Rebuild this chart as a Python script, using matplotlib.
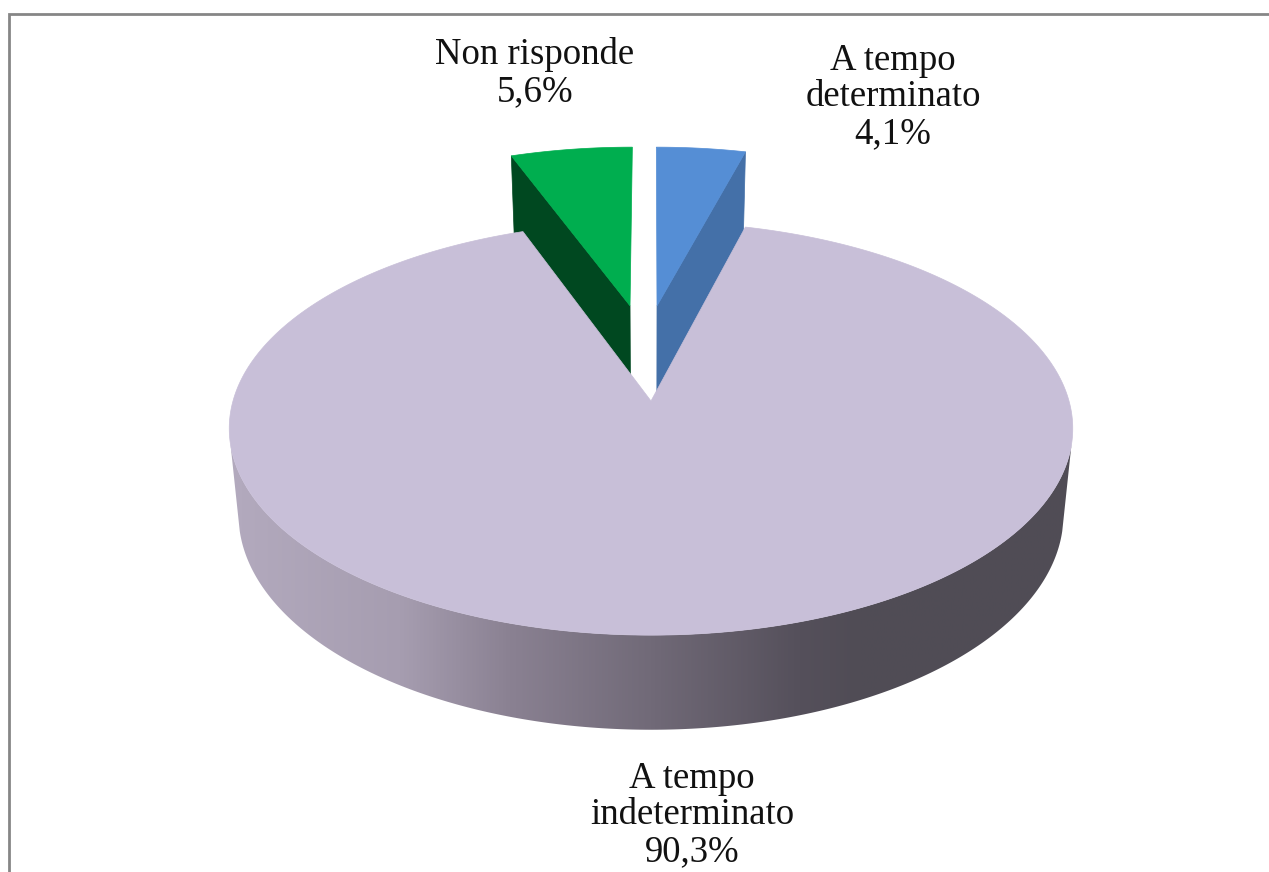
import numpy as np
import matplotlib
matplotlib.use("Agg")
import matplotlib.pyplot as plt
from matplotlib.colors import LinearSegmentedColormap
from matplotlib.patches import Polygon

# ---- data ----
categories = ["A tempo\ndeterminato", "A tempo\nindeterminato", "Non risponde"]
values = [4.1, 90.3, 5.6]
value_labels = ["4,1%", "90,3%", "5,6%"]

top_colors = ["#558ED5", "#C8BFD8", "#00AE4F"]
side_colors = ["#4470A8", "#C8BFD8", "#004820"]
rim_stops = [(228, "#B3AABE"), (400, "#A69DB0"), (510, "#8A8192"), (650, "#716A78"),
             (800, "#55505B"), (860, "#504C55"), (1075, "#504D56")]
explode = [(0.0153, 0.5), (0.0, 0.0), (-0.0535, 0.5)]
label_pos = [(893, 97), (692, 815), (535, 73)]

W, H = 1269, 872
CX, CY, A, B, K = 651.0, 401.0, 418.0, 203.0, 0.133
DEPTH, SHRINK = 85.0, 0.978
CUT_EXTRA = 10.0

fig = plt.figure(figsize=(W / 100, H / 100), dpi=100)
ax = fig.add_axes([0, 0, 1, 1])
ax.set_xlim(0, W)
ax.set_ylim(H, 0)
ax.axis("off")


def project(u, v, lower=False):
    w = 1 + K * v
    x = CX + A * u / w
    y = CY - B * v / w
    if lower:
        x = CX + (x - CX) * SHRINK
        y = y + DEPTH / w ** 0.75
    return x, y


def wedge(t0, t1, shift=(0, 0), lower=False, n=240):
    t = np.radians(np.linspace(t0, t1, n))
    u = np.r_[shift[0], shift[0] + np.sin(t)]
    v = np.r_[shift[1], shift[1] + np.cos(t)]
    return np.column_stack(project(u, v, lower))


# slice angles, clockwise from twelve o'clock
total = sum(values)
edges = np.r_[0, np.cumsum(values)] / total * 360.0


def small_slice(i):
    t0, t1 = edges[i], edges[i + 1]
    sh = explode[i]
    top = wedge(t0, t1, sh)
    low = wedge(t0, t1, sh, lower=True)
    # the inner cut face that runs from the rim down to the apex;
    # its foot is hidden behind the big slice, which is drawn later
    if i == 0:
        rim, rim_low = top[-1], low[-1]
    else:
        rim, rim_low = top[1], low[1]
    side = [top[0], rim, rim_low + [0, CUT_EXTRA], low[0] + [0, CUT_EXTRA]]
    ax.add_patch(Polygon(side, closed=True, fc=side_colors[i], ec=side_colors[i], lw=0.5, zorder=2))
    ax.add_patch(Polygon(top, closed=True, fc=top_colors[i], ec=top_colors[i], lw=0.5, zorder=3))


small_slice(0)
small_slice(2)

# big slice: rim with a horizontal gradient, then the top face
t_mid = np.linspace(102, 258, 300)
r = np.radians(t_mid)
up = np.column_stack(project(np.sin(r), np.cos(r)))
lo = np.column_stack(project(np.sin(r), np.cos(r), lower=True))
rim_poly = Polygon(np.r_[up, lo[::-1]], closed=True, fc="none", ec="none", zorder=4)
ax.add_patch(rim_poly)
xs = [s[0] for s in rim_stops]
pos = [(x - xs[0]) / (xs[-1] - xs[0]) for x in xs]
cmap = LinearSegmentedColormap.from_list("rim", list(zip(pos, [s[1] for s in rim_stops])))
im = ax.imshow(np.linspace(0, 1, 512)[None, :], cmap=cmap, aspect="auto",
               extent=(xs[0], xs[-1], 760, 400), zorder=4, interpolation="bilinear")
im.set_clip_path(rim_poly)
ax.set_xlim(0, W)
ax.set_ylim(H, 0)

big_top = wedge(edges[1], edges[2], explode[1], n=720)
ax.add_patch(Polygon(big_top, closed=True, fc=top_colors[1], ec=top_colors[1], lw=0.5, zorder=5))

# chart frame (only left and top reach into the picture)
ax.plot([9, 9, W], [H, 14, 14], color="#868686", lw=2.0, zorder=1,
        solid_joinstyle="miter")

for cat, val, (x, y) in zip(categories, value_labels, label_pos):
    ax.text(x, y, cat + "\n" + val, ha="center", va="center", fontsize=26.5,
            family="Liberation Serif", color="#111111", linespacing=1.08, zorder=6)

fig.savefig("out.png", dpi=100)
